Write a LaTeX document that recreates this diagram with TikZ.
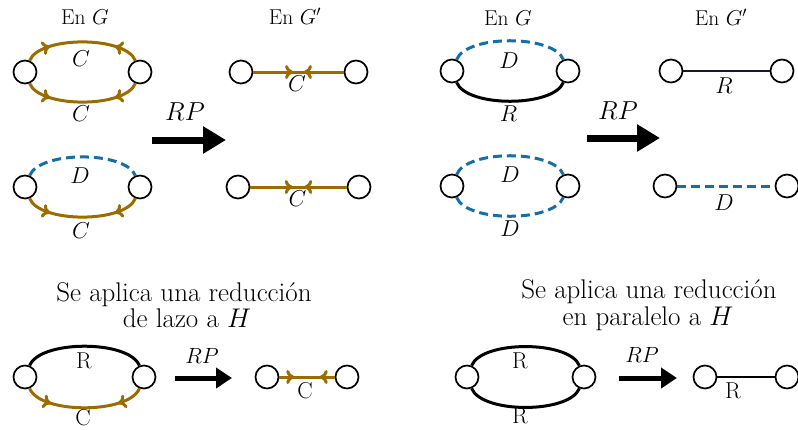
\RequirePackage{fix-cm}
\documentclass[tikz,border=0pt]{standalone}
\usetikzlibrary{arrows.meta,decorations.markings}
\definecolor{brn}{RGB}{155,108,0}
\definecolor{blu}{RGB}{22,110,168}
\definecolor{dk}{RGB}{25,25,40}
\begin{document}
\begin{tikzpicture}[x=1pt,y=1pt,
  vtx/.style={circle,draw,line width=1.7pt,fill=white,minimum size=23pt,inner sep=0pt},
  upe/.style={out=68,in=112,looseness=0.65},
  dne/.style={out=-68,in=-112,looseness=0.65},
  cedge/.style={color=brn,line width=3pt},
  dedge/.style={color=blu,line width=3pt,dash pattern=on 9pt off 5pt},
  redge/.style={color=black,line width=3pt},
  rthin/.style={color=dk,line width=2.2pt},
  cmarks/.style 2 args={postaction={decorate,decoration={markings,
    mark=at position #1 with {\arrow{Computer Modern Rightarrow[length=8pt,width=14pt]}},
    mark=at position #2 with {\arrowreversed{Computer Modern Rightarrow[length=8pt,width=14pt]}}}}},
  bigarrow/.style={line width=7pt,-{Triangle[length=23pt,width=26pt]}},
  smallarrow/.style={line width=5pt,-{Triangle[length=16pt,width=20pt]}},
  lbl/.style={anchor=base,inner sep=0pt,font=\fontsize{23}{27}\selectfont},
  hdr/.style={anchor=base,inner sep=0pt,font=\fontsize{21.5}{25}\selectfont},
  rp/.style={anchor=base,inner sep=0pt,font=\fontsize{26}{30}\selectfont},
  rps/.style={anchor=base,inner sep=0pt,font=\fontsize{22}{26}\selectfont},
  txt/.style={anchor=base,inner sep=0pt,font=\fontsize{27}{31}\selectfont}]
\useasboundingbox (0,0) rectangle (798,-429);

% ---------- Panel 1 ----------
\node[hdr] (h1) at (85,-24.5) {En $G$};
\node[hdr] (h2) at (295,-24.5) {En $G'$};
\node[vtx] (a1) at (25,-72) {};
\node[vtx] (b1) at (140,-72) {};
\node[vtx] (a2) at (241,-72) {};
\node[vtx] (b2) at (356,-72) {};
\node[vtx] (a3) at (25,-187) {};
\node[vtx] (b3) at (140,-187) {};
\node[vtx] (a4) at (238,-187) {};
\node[vtx] (b4) at (359,-187) {};
\draw[cedge,cmarks={0.22}{0.78}] (a1) to[upe] (b1);
\draw[cedge,cmarks={0.22}{0.78}] (a1) to[dne] (b1);
\draw[cedge,cmarks={0.44}{0.56}] (a2) -- (b2);
\draw[dedge] (a3) to[upe] (b3);
\draw[cedge,cmarks={0.22}{0.78}] (a3) to[dne] (b3);
\draw[cedge,cmarks={0.44}{0.56}] (a4) -- (b4);
\node[lbl] (l1) at (81,-66.5) {$C$};
\node[lbl] (l2) at (81,-121.5) {$C$};
\node[lbl] (l3) at (297,-91.5) {$C$};
\node[lbl] (l4) at (80,-183) {$D$};
\node[lbl] (l5) at (81,-238) {$C$};
\node[lbl] (l6) at (297.5,-206.5) {$C$};
\node[rp] (rp1) at (185,-120.5) {$RP$};
\coordinate (s1) at (152,-140);
\coordinate (t1) at (226,-140);
\draw[bigarrow] (s1) -- (t1);

% ---------- Panel 2 ----------
\node[hdr] (h3) at (508,-25) {En $G$};
\node[hdr] (h4) at (721,-25) {En $G'$};
\node[vtx] (c1) at (452,-71) {};
\node[vtx] (d1) at (568,-71) {};
\node[vtx] (c2) at (671,-71) {};
\node[vtx] (d2) at (782,-71) {};
\node[vtx] (c3) at (452,-186) {};
\node[vtx] (d3) at (568,-186) {};
\node[vtx] (c4) at (665,-186) {};
\node[vtx] (d4) at (787,-186) {};
\draw[dedge] (c1) to[upe] (d1);
\draw[redge] (c1) to[dne] (d1);
\draw[rthin] (c2) -- (d2);
\draw[dedge] (c3) to[upe] (d3);
\draw[dedge] (c3) to[dne] (d3);
\draw[dedge] (c4) -- (d4);
\node[lbl] (m1) at (509,-68) {$D$};
\node[lbl] (m2) at (508.5,-121.7) {$R$};
\node[lbl] (m3) at (724,-93) {$R$};
\node[lbl] (m4) at (510,-182) {$D$};
\node[lbl] (m5) at (510,-236.7) {$D$};
\node[lbl] (m6) at (724,-210) {$D$};
\node[rp] (rp2) at (618,-119) {$RP$};
\coordinate (s2) at (587,-138);
\coordinate (t2) at (660,-138);
\draw[bigarrow] (s2) -- (t2);

% ---------- Panel 3 ----------
\node[txt] (p1) at (184,-301) {Se aplica una reducción};
\node[txt] (p2) at (187,-327) {de lazo a $H$};
\node[vtx] (e1) at (25,-377) {};
\node[vtx] (f1) at (144,-377) {};
\node[vtx] (e2) at (267,-377) {};
\node[vtx] (f2) at (347,-377) {};
\draw[redge] (e1) to[upe] (f1);
\draw[cedge,cmarks={0.22}{0.78}] (e1) to[dne] (f1);
\draw[cedge,cmarks={0.27}{0.73}] (e2) -- (f2);
\node[lbl] (n1) at (84,-368) {R};
\node[lbl] (n2) at (83,-425) {C};
\node[lbl] (n3) at (305,-398) {C};
\node[rps] (rp3) at (202,-363) {$RP$};
\coordinate (s3) at (175,-378);
\coordinate (t3) at (232,-378);
\draw[smallarrow] (s3) -- (t3);

% ---------- Panel 4 ----------
\node[txt] (q1) at (649,-298) {Se aplica una reducción};
\node[txt] (q2) at (648,-325) {en paralelo a $H$};
\node[vtx] (g1) at (467,-377) {};
\node[vtx] (k1) at (584,-377) {};
\node[vtx] (g2) at (705,-377) {};
\node[vtx] (k2) at (787,-377) {};
\draw[redge] (g1) to[upe] (k1);
\draw[redge] (g1) to[dne] (k1);
\draw[redge,line width=2.4pt] (g2) -- (k2);
\node[lbl] (o1) at (520,-368) {R};
\node[lbl] (o2) at (520,-423) {R};
\node[lbl] (o3) at (733,-398) {R};
\node[rps] (rp4) at (642,-362) {$RP$};
\coordinate (s4) at (619,-378);
\coordinate (t4) at (677,-378);
\draw[smallarrow] (s4) -- (t4);
\end{tikzpicture}
\end{document}
